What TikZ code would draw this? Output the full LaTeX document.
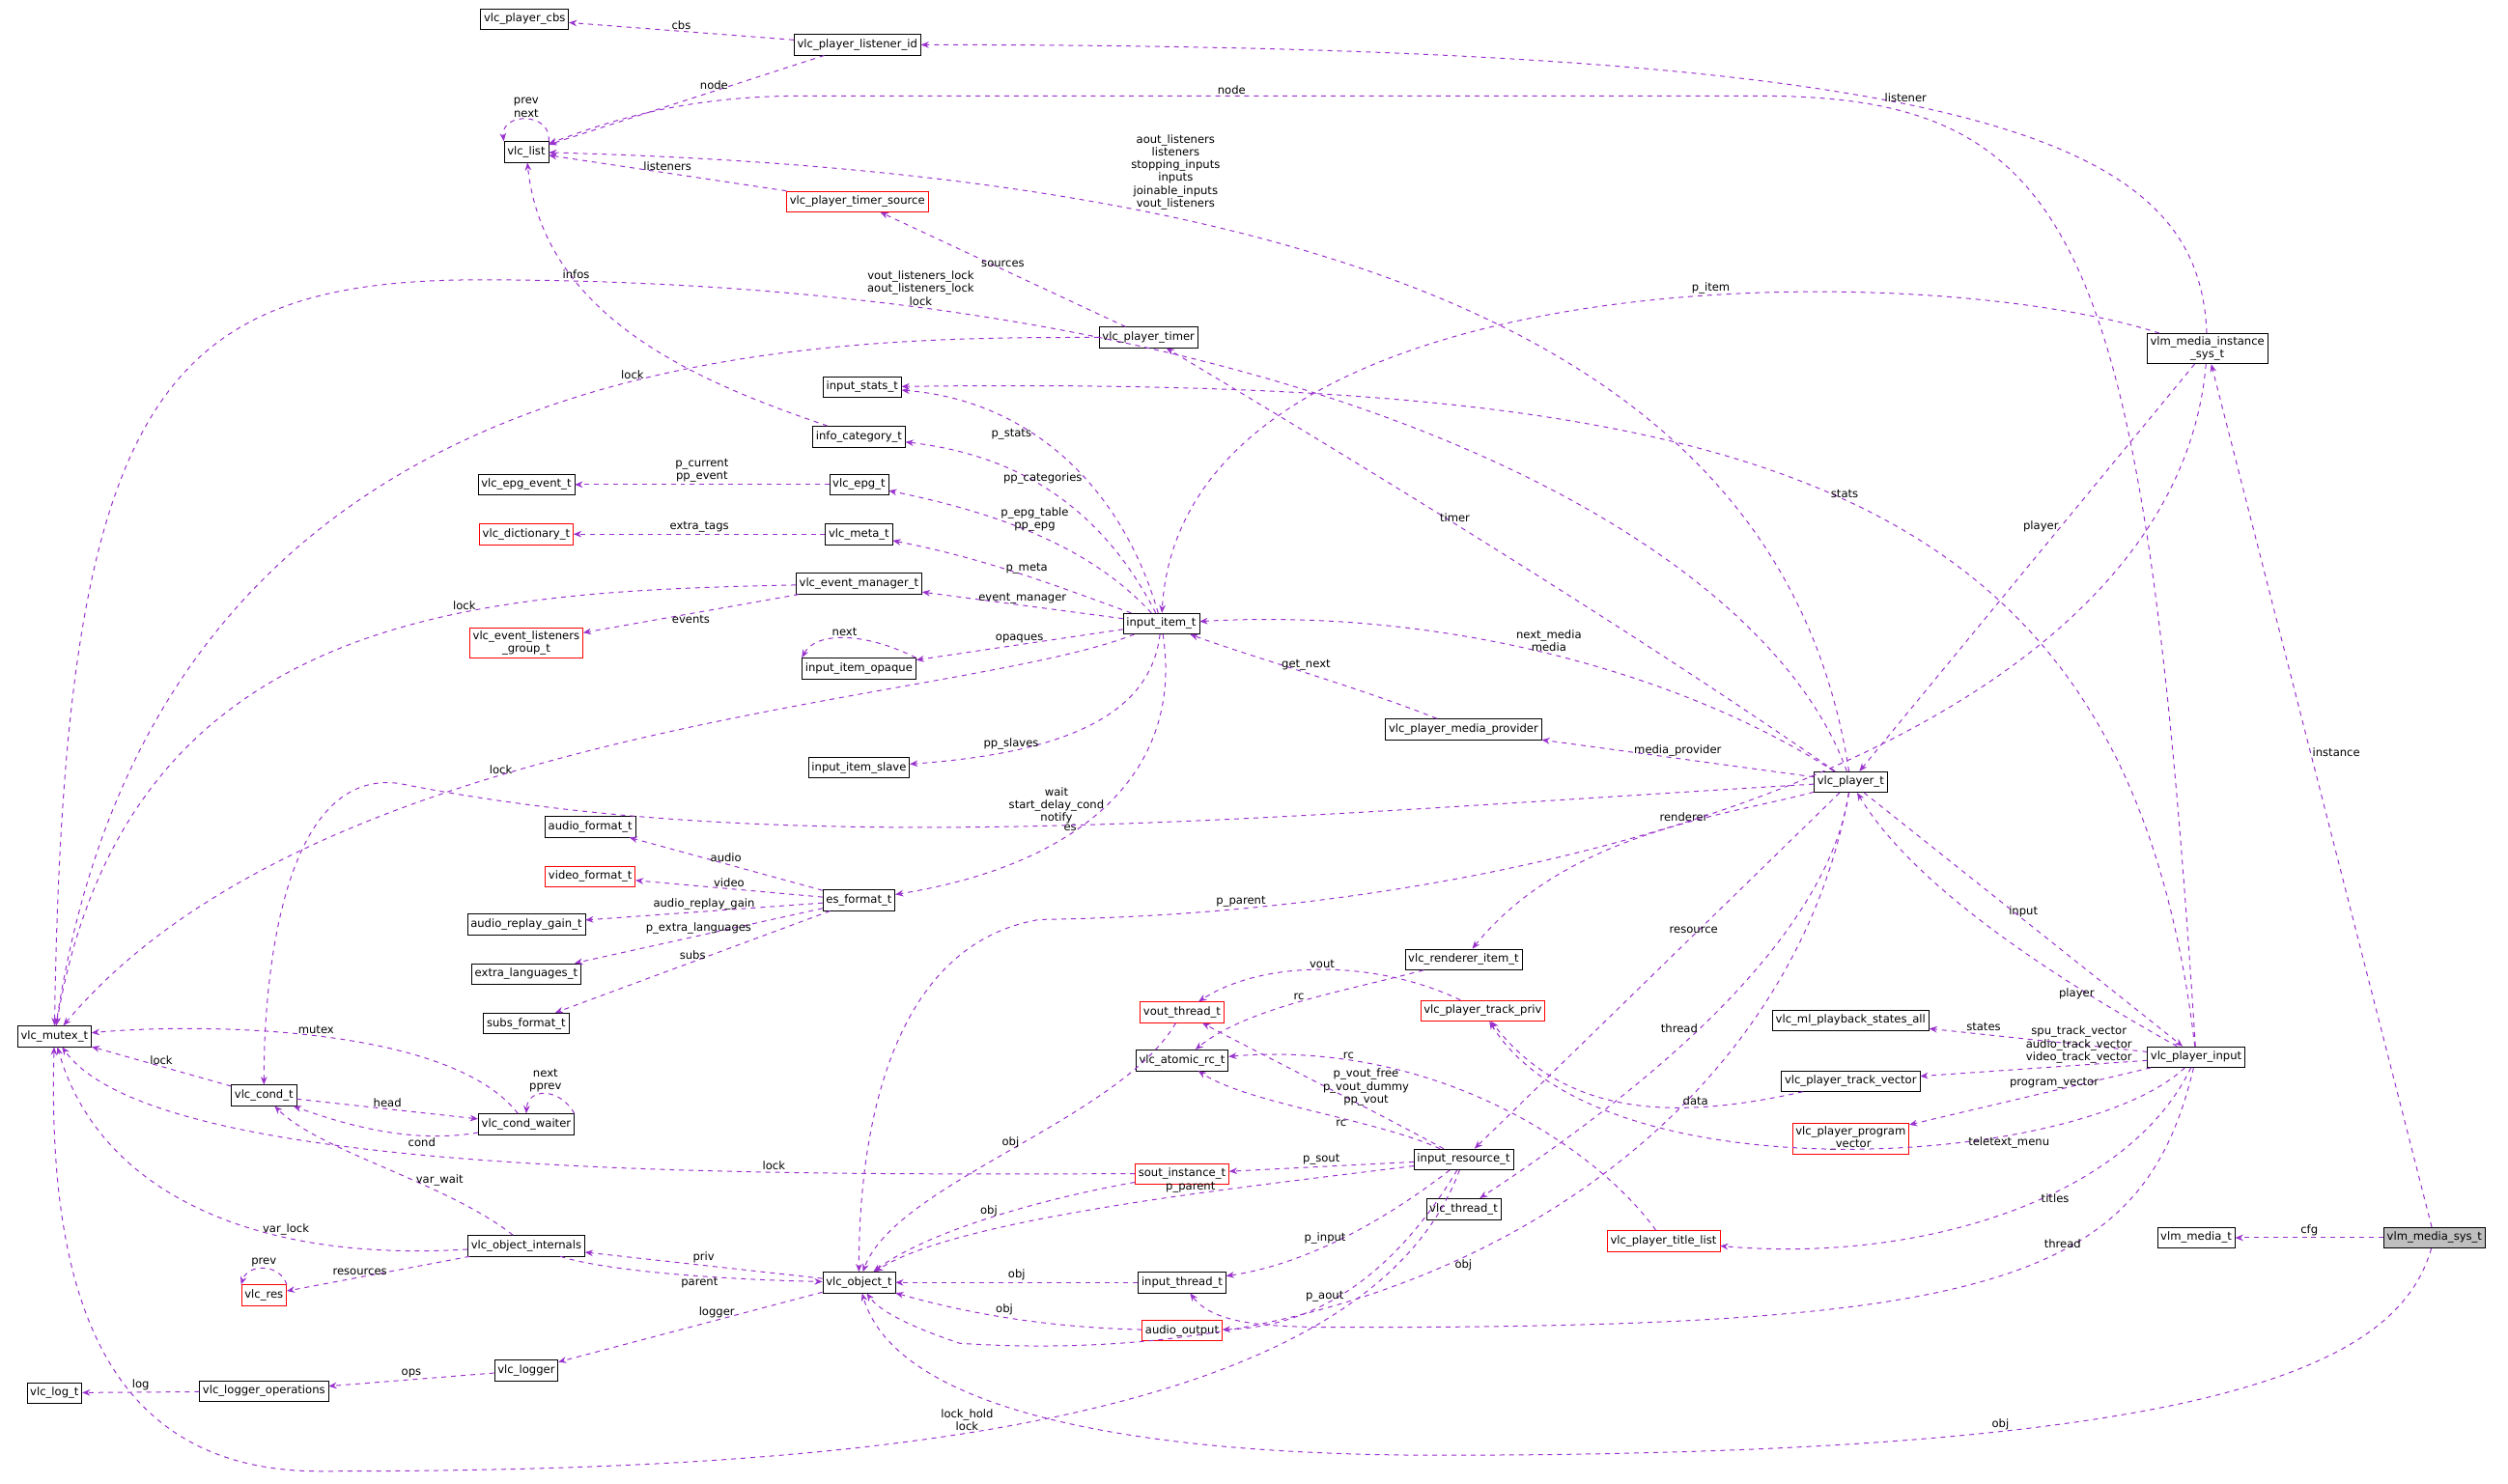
\documentclass[tikz,border=0pt]{standalone}
\usepackage{fontspec}
\setmainfont{DejaVu Sans}
\usetikzlibrary{arrows.meta,positioning}
\definecolor{dep}{RGB}{154,50,205}
\tikzset{
  cls/.style={draw=black,fill=white,font=\fontsize{7}{8}\selectfont,inner sep=2pt,minimum height=13pt,align=center},
  redcls/.style={cls,draw=red},
  cur/.style={cls,fill=black!25},
  uses/.style={draw=dep,dashed,-{Stealth[length=5pt,width=4pt]},semithick},
  lbl/.style={font=\fontsize{7}{8}\selectfont,inner sep=1pt,align=center,text=black}
}
\begin{document}
\begin{tikzpicture}[x=1pt,y=-1pt]
\useasboundingbox[fill=white] (0,0) rectangle (1568,928);
% classes
\node[cls] (cbs) at (328,12) {vlc\_player\_cbs};
\node[cls] (listener) at (536,28) {vlc\_player\_listener\_id};
\node[cls] (list) at (329,95) {vlc\_list};
\node[redcls] (timersrc) at (536,126) {vlc\_player\_timer\_source};
\node[cls] (timer) at (718,211) {vlc\_player\_timer};
\node[cls] (stats) at (539,242) {input\_stats\_t};
\node[cls] (infocat) at (537,273) {info\_category\_t};
\node[cls] (epgevent) at (329,303) {vlc\_epg\_event\_t};
\node[cls] (epg) at (537,303) {vlc\_epg\_t};
\node[redcls] (dict) at (329,334) {vlc\_dictionary\_t};
\node[cls] (meta) at (537,334) {vlc\_meta\_t};
\node[cls] (evmgr) at (537,365) {vlc\_event\_manager\_t};
\node[redcls] (evgroup) at (329,402) {vlc\_event\_listeners\\\_group\_t};
\node[cls] (opaque) at (537,418) {input\_item\_opaque};
\node[cls] (item) at (726,390) {input\_item\_t};
\node[cls] (slave) at (537,480) {input\_item\_slave};
\node[cls] (provider) at (915,456) {vlc\_player\_media\_provider};
\node[cls] (player) at (1157,489) {vlc\_player\_t};
\node[cls] (vlminst) at (1380,218) {vlm\_media\_instance\\\_sys\_t};
\node[cls] (afmt) at (369,517) {audio\_format\_t};
\node[redcls] (vfmt) at (369,548) {video\_format\_t};
\node[cls] (gain) at (329,578) {audio\_replay\_gain\_t};
\node[cls] (extra) at (329,609) {extra\_languages\_t};
\node[cls] (subs) at (329,640) {subs\_format\_t};
\node[cls] (es) at (537,563) {es\_format\_t};
\node[cls] (mutex) at (34,648) {vlc\_mutex\_t};
\node[cls] (cond) at (165,685) {vlc\_cond\_t};
\node[cls] (waiter) at (329,703) {vlc\_cond\_waiter};
\node[cls] (renderer) at (915,600) {vlc\_renderer\_item\_t};
\node[redcls] (trackpriv) at (927,632) {vlc\_player\_track\_priv};
\node[redcls] (vout) at (739,633) {vout\_thread\_t};
\node[cls] (rc) at (739,663) {vlc\_atomic\_rc\_t};
\node[cls] (mlstates) at (1157,638) {vlc\_ml\_playback\_states\_all};
\node[cls] (pinput) at (1373,661) {vlc\_player\_input};
\node[cls] (trackvec) at (1157,676) {vlc\_player\_track\_vector};
\node[redcls] (progvec) at (1157,712) {vlc\_player\_program\\\_vector};
\node[redcls] (sout) at (739,734) {sout\_instance\_t};
\node[cls] (resource) at (915,725) {input\_resource\_t};
\node[cls] (internals) at (329,779) {vlc\_object\_internals};
\node[cls] (thread) at (915,756) {vlc\_thread\_t};
\node[redcls] (titles) at (1040,776) {vlc\_player\_title\_list};
\node[cls] (vlmmedia) at (1373,774) {vlm\_media\_t};
\node[cur] (vlmsys) at (1522,774) {vlm\_media\_sys\_t};
\node[cls] (object) at (537,802) {vlc\_object\_t};
\node[cls] (ithread) at (739,802) {input\_thread\_t};
\node[redcls] (aout) at (739,832) {audio\_output};
\node[redcls] (res) at (165,810) {vlc\_res};
\node[cls] (logger) at (329,857) {vlc\_logger};
\node[cls] (logops) at (165,870) {vlc\_logger\_operations};
\node[cls] (logt) at (34,871) {vlc\_log\_t};
% top part
\draw[uses] (listener) -- node[lbl,above]{cbs} (cbs);
\draw[uses] (listener) -- node[lbl,above,pos=0.4]{node} (list);
\draw[uses] (list.north east) .. controls (345,70) and (313,70) .. node[lbl,above]{prev\\next} (list.north west);
\draw[uses] (timersrc) -- node[lbl,above]{listeners} (list);
\draw[uses] (pinput) .. controls (1340,150) and (1300,60) .. (1100,60) -- node[lbl,above,pos=0.55]{node} (500,60) .. controls (420,60) and (370,80) .. (list);
\draw[uses] (player) .. controls (1120,250) and (900,110) .. node[lbl,pos=0.72,above=4pt]{aout\_listeners\\listeners\\stopping\_inputs\\inputs\\joinable\_inputs\\vout\_listeners} (list);
\draw[uses] (vlminst) .. controls (1375,90) and (1250,28) .. node[lbl,above,pos=0.55]{listener} (listener);
\draw[uses] (timer) -- node[lbl,above]{sources} (timersrc);
\draw[uses] (timer) .. controls (500,211) and (100,211) .. node[lbl,above,pos=0.4]{lock} (mutex);
\draw[uses] (player) .. controls (1100,330) and (800,175) .. node[lbl,above,pos=0.8]{vout\_listeners\_lock\\aout\_listeners\_lock\\lock} (300,175) .. controls (100,175) and (40,250) .. (mutex);
\draw[uses] (infocat) .. controls (440,240) and (340,200) .. node[lbl,above,pos=0.7]{infos} (list);
\draw[uses] (vlminst) .. controls (1200,160) and (740,160) .. node[lbl,above,pos=0.4]{p\_item} (item);
\draw[uses] (pinput) .. controls (1330,300) and (1100,235) .. node[lbl,above,pos=0.5]{stats} (stats);
% input_item_t
\draw[uses] (item) .. controls (700,300) and (640,250) .. node[lbl,left,pos=0.6]{p\_stats} (stats);
\draw[uses] (item) .. controls (690,320) and (640,285) .. node[lbl,above,pos=0.55]{pp\_categories} (infocat);
\draw[uses] (epg) -- node[lbl,above]{p\_current\\pp\_event} (epgevent);
\draw[uses] (item) .. controls (680,340) and (620,320) .. node[lbl,above,pos=0.5]{p\_epg\_table\\pp\_epg} (epg);
\draw[uses] (meta) -- node[lbl,above]{extra\_tags} (dict);
\draw[uses] (item) .. controls (670,370) and (620,350) .. node[lbl,above,pos=0.5]{p\_meta} (meta);
\draw[uses] (evmgr) .. controls (300,370) and (80,380) .. node[lbl,above,pos=0.35]{lock} (mutex);
\draw[uses] (evmgr) -- node[lbl,below]{events} (evgroup);
\draw[uses] (item) -- node[lbl,above]{event\_manager} (evmgr);
\draw[uses] (opaque.north east) .. controls (540,395) and (510,395) .. node[lbl,above]{next} (opaque.north west);
\draw[uses] (item) -- node[lbl,above]{opaques} (opaque);
\draw[uses] (item) .. controls (600,440) and (200,450) .. node[lbl,above,pos=0.6]{lock} (mutex);
\draw[uses] (item) .. controls (720,440) and (680,470) .. node[lbl,left,pos=0.7]{pp\_slaves} (slave);
\draw[uses] (item) .. controls (740,480) and (680,540) .. node[lbl,left,pos=0.6]{es} (es);
\draw[uses] (player) .. controls (1000,380) and (800,260) .. node[lbl,above,pos=0.5]{timer} (timer);
\draw[uses] (player) .. controls (1050,420) and (900,380) .. node[lbl,above,pos=0.5]{next\_media\\media} (item);
\draw[uses] (provider) .. controls (850,430) and (780,410) .. node[lbl,above,pos=0.5]{get\_next} (item);
\draw[uses] (player) -- node[lbl,above]{media\_provider} (provider);
\draw[uses] (vlminst) -- node[lbl,left,pos=0.4]{player} (player);
\draw[uses] (player) .. controls (800,510) and (500,540) .. node[lbl,above,pos=0.5]{wait\\start\_delay\_cond\\notify} (250,490) .. controls (180,480) and (165,600) .. (cond);
% es_format_t
\draw[uses] (es) -- node[lbl,above]{audio} (afmt);
\draw[uses] (es) -- node[lbl,above]{video} (vfmt);
\draw[uses] (es) -- node[lbl,above]{audio\_replay\_gain} (gain);
\draw[uses] (es) -- node[lbl,above]{p\_extra\_languages} (extra);
\draw[uses] (es) -- node[lbl,above]{subs} (subs);
% player
\draw[uses] (player) .. controls (1080,510) and (980,520) .. node[lbl,above,pos=0.4]{renderer} (renderer);
\draw[uses] (vlminst) .. controls (1360,450) and (1000,570) .. node[lbl,above,pos=0.88]{p\_parent} (650,575) .. controls (560,590) and (537,700) .. (object);
\draw[uses] (player) -- node[lbl,above,pos=0.4]{resource} (resource);
\draw[uses] (player) -- node[lbl,above]{input} (pinput);
\draw[uses] (pinput) .. controls (1300,620) and (1200,560) .. node[lbl,below,pos=0.3]{player} (player);
\draw[uses] (pinput) -- node[lbl,above=1pt,pos=0.75]{states} (mlstates);
\draw[uses] (pinput) -- node[lbl,above,pos=0.3]{spu\_track\_vector\\audio\_track\_vector\\video\_track\_vector} (trackvec);
\draw[uses] (pinput) -- node[lbl,above,pos=0.4]{program\_vector} (progvec);
\draw[uses] (pinput) .. controls (1300,730) and (1000,750) .. node[lbl,below,pos=0.3]{teletext\_menu} (trackpriv);
\draw[uses] (pinput) .. controls (1330,750) and (1200,790) .. node[lbl,below,pos=0.4]{titles} (titles);
\draw[uses] (pinput) .. controls (1340,800) and (1250,830) .. node[lbl,above,pos=0.4]{thread} (850,830) .. controls (800,830) and (760,830) .. (ithread);
\draw[uses] (player) .. controls (1140,600) and (1000,700) .. node[lbl,left,pos=0.5]{thread} (thread);
\draw[uses] (player) .. controls (1120,700) and (900,860) .. node[lbl,below,pos=0.6]{obj} (600,840) .. controls (570,830) and (550,820) .. (object);
\draw[uses] (trackvec) .. controls (1050,700) and (980,700) .. node[lbl,above,pos=0.3]{data} (trackpriv);
\draw[uses] (trackpriv) .. controls (860,600) and (790,600) .. node[lbl,above,pos=0.5]{vout} (vout);
\draw[uses] (renderer) .. controls (840,620) and (780,630) .. node[lbl,above,pos=0.5]{rc} (rc);
\draw[uses] (titles) .. controls (1000,720) and (900,650) .. node[lbl,above,pos=0.8]{rc} (rc);
\draw[uses] (resource) .. controls (860,700) and (780,690) .. node[lbl,below,pos=0.4]{rc} (rc);
\draw[uses] (resource) .. controls (850,690) and (790,660) .. node[lbl,above,pos=0.3]{p\_vout\_free\\p\_vout\_dummy\\pp\_vout} (vout);
\draw[uses] (vout) .. controls (700,700) and (560,740) .. node[lbl,above,pos=0.5]{obj} (object);
\draw[uses] (sout) .. controls (500,734) and (100,740) .. node[lbl,above,pos=0.3]{lock} (mutex);
\draw[uses] (sout) .. controls (650,750) and (580,770) .. node[lbl,above,pos=0.5]{obj} (object);
\draw[uses] (resource) -- node[lbl,above]{p\_sout} (sout);
\draw[uses] (resource) .. controls (800,740) and (600,760) .. node[lbl,above,pos=0.4]{p\_parent} (object);
\draw[uses] (resource) .. controls (870,760) and (820,790) .. node[lbl,above,pos=0.6]{p\_input} (ithread);
\draw[uses] (resource) .. controls (870,800) and (820,830) .. node[lbl,above,pos=0.6]{p\_aout} (aout);
\draw[uses] (resource) .. controls (850,900) and (500,920) .. node[lbl,above,pos=0.55]{lock\_hold\\lock} (200,920) .. controls (60,920) and (30,800) .. (mutex);
\draw[uses] (ithread) -- node[lbl,above]{obj} (object);
\draw[uses] (aout) .. controls (650,830) and (600,820) .. node[lbl,above,pos=0.5]{obj} (object);
\draw[uses] (vlmsys) .. controls (1500,850) and (1400,910) .. node[lbl,above,pos=0.7]{obj} (900,910) .. controls (700,910) and (560,880) .. (object);
\draw[uses] (vlmsys) -- node[lbl,above]{cfg} (vlmmedia);
\draw[uses] (vlmsys) -- node[lbl,right,pos=0.55]{instance} (vlminst);
% bottom left
\draw[uses] (cond) -- node[lbl,above]{lock} (mutex);
\draw[uses] (cond) -- node[lbl,above]{head} (waiter);
\draw[uses] (waiter) .. controls (260,715) and (220,705) .. node[lbl,below,pos=0.3]{cond} (cond);
\draw[uses] (waiter.north east) .. controls (350,680) and (330,680) .. node[lbl,above]{next\\pprev} (waiter.north);
\draw[uses] (waiter) .. controls (280,640) and (120,640) .. node[lbl,above,pos=0.5]{mutex} (mutex);
\draw[uses] (internals) .. controls (280,740) and (200,720) .. node[lbl,right,pos=0.4]{var\_wait} (cond);
\draw[uses] (internals) .. controls (150,790) and (60,740) .. node[lbl,above,pos=0.3]{var\_lock} (mutex);
\draw[uses] (internals) -- node[lbl,above,pos=0.6]{resources} (res);
\draw[uses] (res.north east) .. controls (175,790) and (155,790) .. node[lbl,above]{prev} (res.north west);
\draw[uses] (object) -- node[lbl,above]{priv} (internals);
\draw[uses] (internals) .. controls (380,795) and (450,800) .. node[lbl,below,pos=0.6]{parent} (object);
\draw[uses] (object) -- node[lbl,above,pos=0.4]{logger} (logger);
\draw[uses] (logger) -- node[lbl,above]{ops} (logops);
\draw[uses] (logops) -- node[lbl,above]{log} (logt);
\end{tikzpicture}
\end{document}
